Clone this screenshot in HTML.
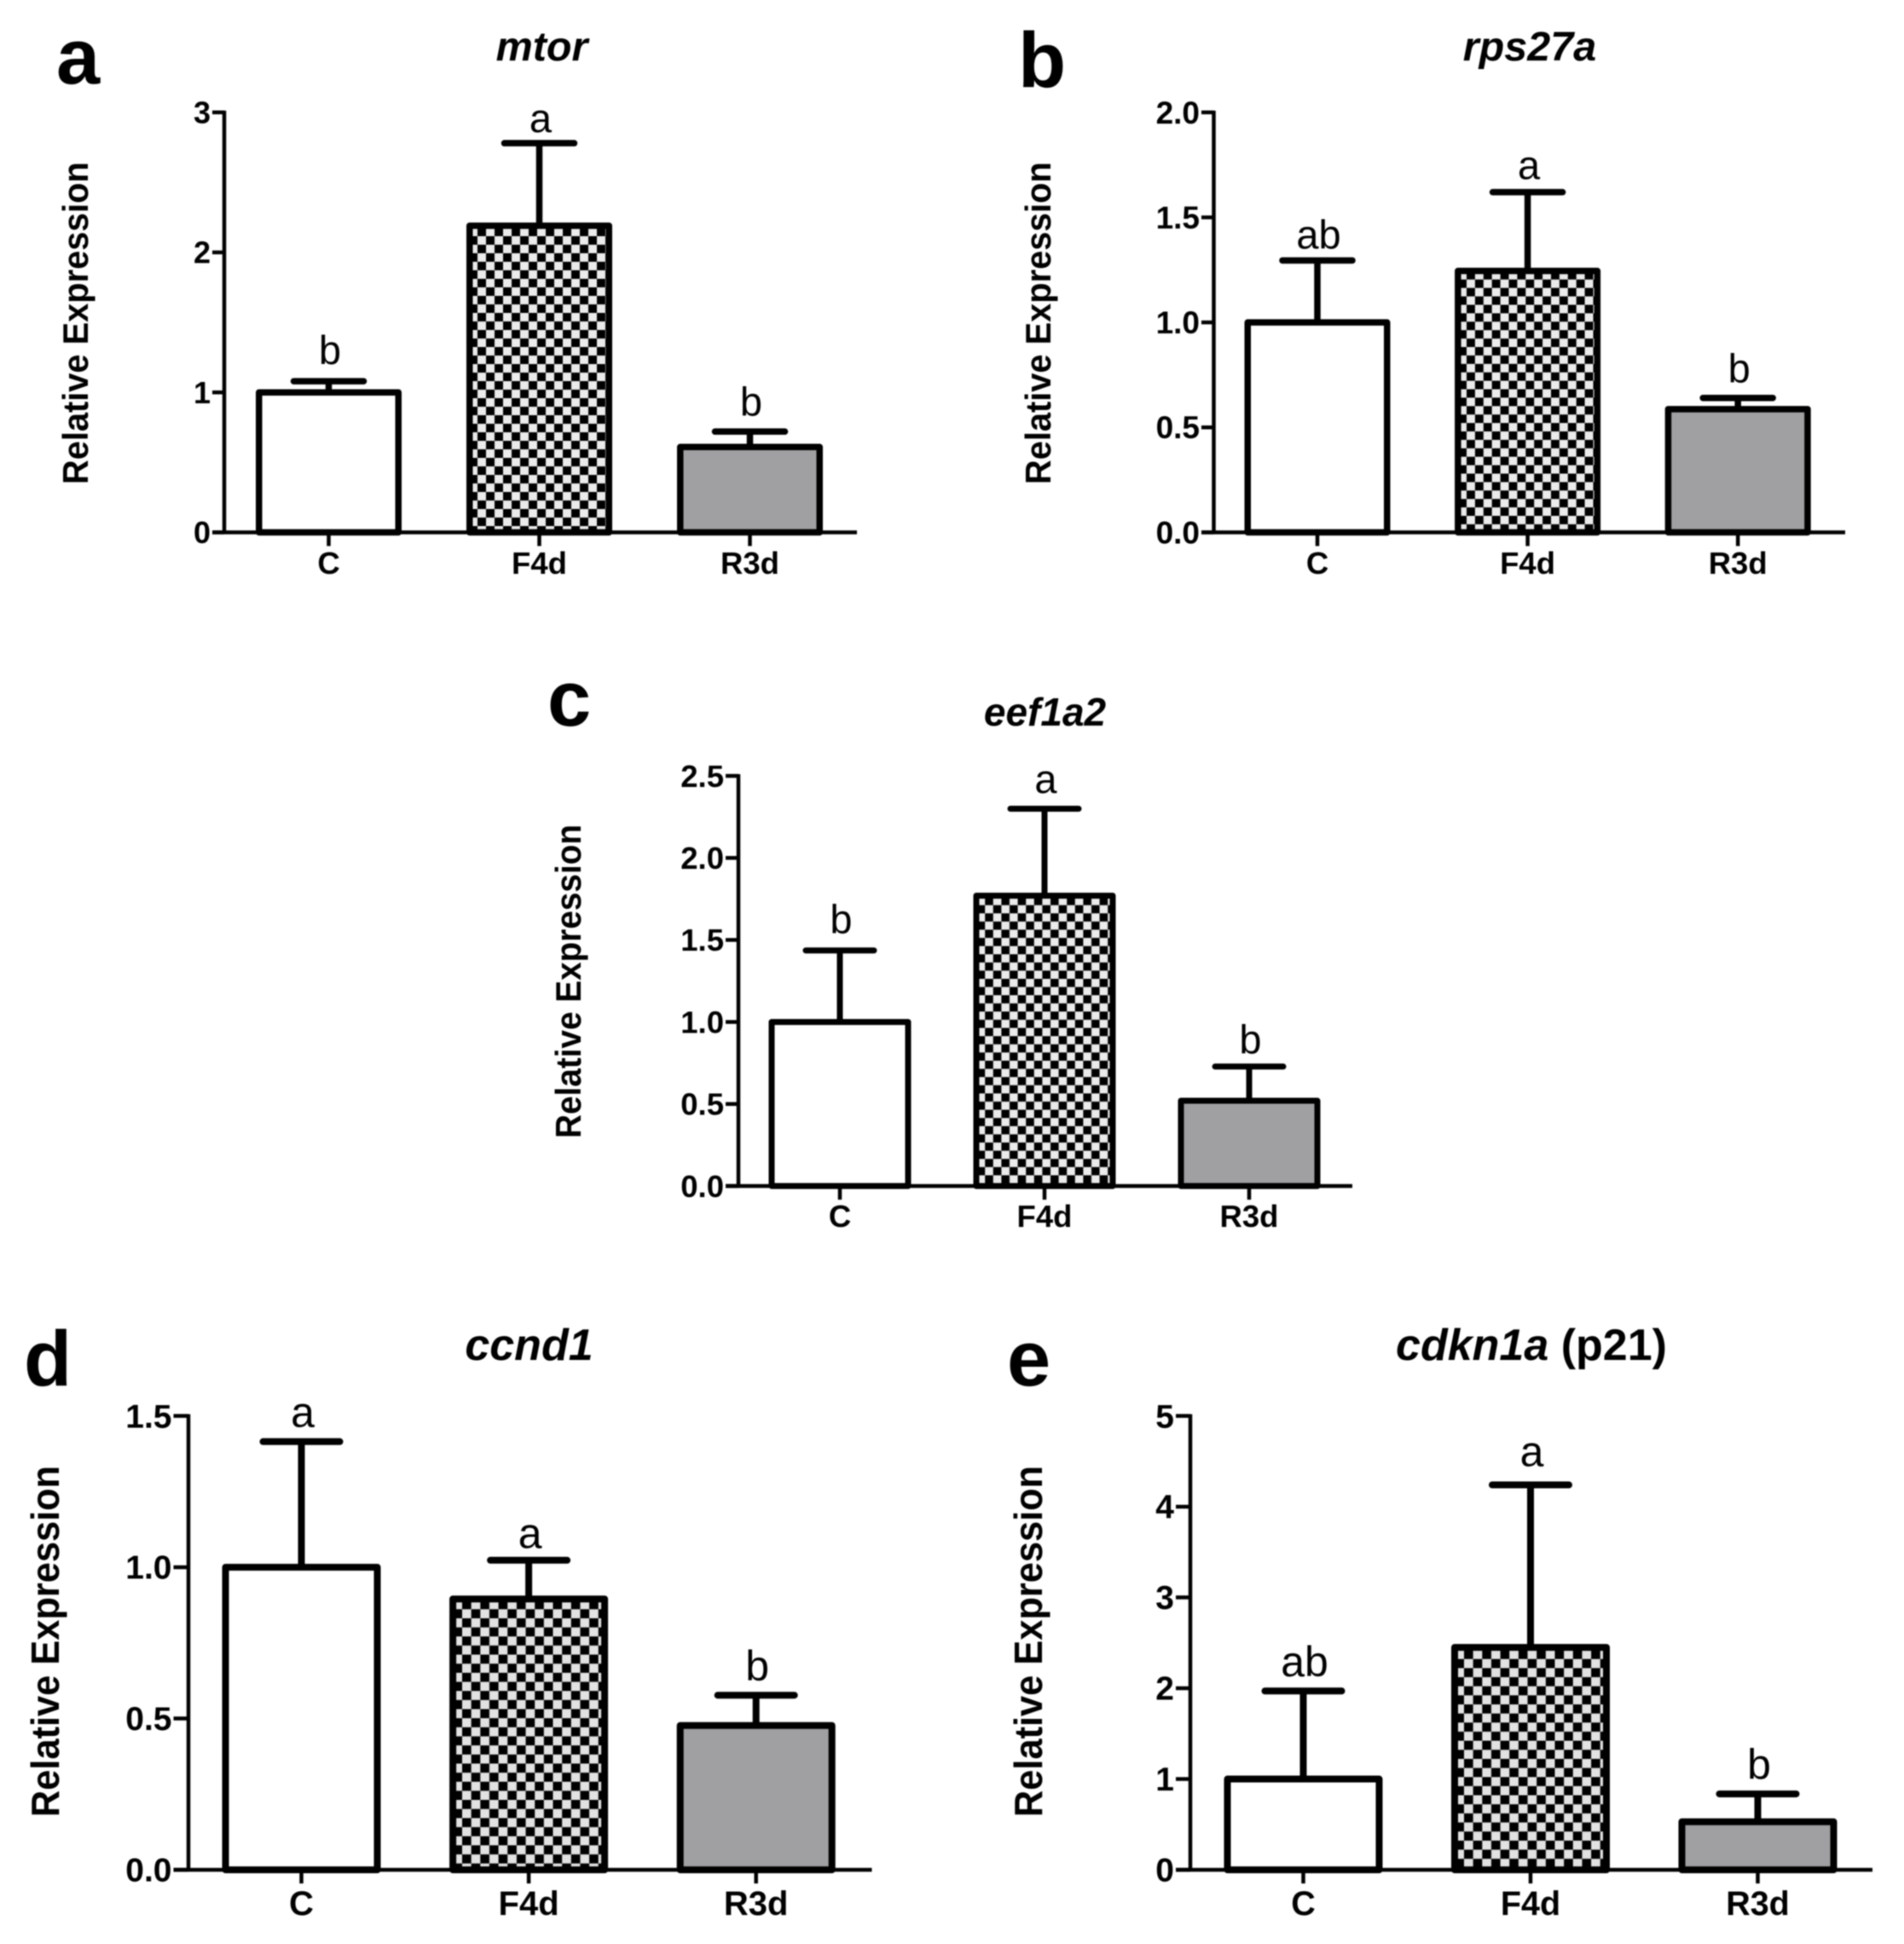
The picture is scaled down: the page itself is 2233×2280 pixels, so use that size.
<!DOCTYPE html>
<html lang="en">
<head>
<meta charset="utf-8">
<title>Relative expression bar charts</title>
<style>
  html, body { margin: 0; padding: 0; background: #ffffff; }
  #figure { display: block; width: 2233px; height: 2280px; filter: blur(0.7px); }
  text { font-family: "Liberation Sans", sans-serif; fill: #000; }
  .panel-label { font-size: 92px; font-weight: 700; }
  .title { font-weight: 700; font-style: italic; text-anchor: middle; }
  .title tspan.plain { font-style: normal; }
  .ytitle { font-weight: 700; text-anchor: middle; }
  .tick { font-weight: 700; }
  .sig { text-anchor: middle; }
</style>
</head>
<body>
<svg id="figure" xmlns="http://www.w3.org/2000/svg" width="2233" height="2280" viewBox="0 0 2233 2280">
  <defs>
    <pattern id="check-a" patternUnits="userSpaceOnUse" x="570" y="277" width="20" height="20"><rect width="20" height="20" fill="#ebebeb"/><rect width="10" height="10" fill="#000"/><rect x="10" y="10" width="10" height="10" fill="#000"/></pattern>
    <pattern id="check-b" patternUnits="userSpaceOnUse" x="1720" y="337.7" width="19.8" height="19.8"><rect width="19.8" height="19.8" fill="#ebebeb"/><rect width="9.9" height="9.9" fill="#000"/><rect x="9.9" y="9.9" width="9.9" height="9.9" fill="#000"/></pattern>
    <pattern id="check-c" patternUnits="userSpaceOnUse" x="1155.2" y="1071.2" width="19.2" height="19.2"><rect width="19.2" height="19.2" fill="#ebebeb"/><rect width="9.6" height="9.6" fill="#000"/><rect x="9.6" y="9.6" width="9.6" height="9.6" fill="#000"/></pattern>
    <pattern id="check-d" patternUnits="userSpaceOnUse" x="542" y="1898" width="21.3" height="21.3"><rect width="21.3" height="21.3" fill="#e2e2e2"/><rect width="10.65" height="10.65" fill="#000"/><rect x="10.65" y="10.65" width="10.65" height="10.65" fill="#000"/></pattern>
    <pattern id="check-e" patternUnits="userSpaceOnUse" x="1717" y="1956.4" width="21.3" height="21.3"><rect width="21.3" height="21.3" fill="#e2e2e2"/><rect width="10.65" height="10.65" fill="#000"/><rect x="10.65" y="10.65" width="10.65" height="10.65" fill="#000"/></pattern>
  </defs>

  <g id="panel-a">
    <text class="panel-label" x="66" y="98">a</text>
    <text class="title" font-size="48.5" x="635.5" y="71">mtor</text>
    <text class="ytitle" font-size="42" transform="translate(103 379) rotate(-90)" textLength="378" lengthAdjust="spacingAndGlyphs">Relative Expression</text>
  </g>
  <g id="panel-b">
    <text class="panel-label" x="1194" y="102">b</text>
    <text class="title" font-size="48.5" x="1794" y="71">rps27a</text>
    <text class="ytitle" font-size="42" transform="translate(1232 379) rotate(-90)" textLength="378" lengthAdjust="spacingAndGlyphs">Relative Expression</text>
  </g>
  <g id="panel-c">
    <text class="panel-label" x="642" y="851">c</text>
    <text class="title" font-size="46" x="1225.5" y="851">eef1a2</text>
    <text class="ytitle" font-size="42" transform="translate(681 1151) rotate(-90)" textLength="368" lengthAdjust="spacingAndGlyphs">Relative Expression</text>
  </g>
  <g id="panel-d">
    <text class="panel-label" x="28" y="1625">d</text>
    <text class="title" font-size="52" x="620.5" y="1595">ccnd1</text>
    <text class="ytitle" font-size="46" transform="translate(69 1925) rotate(-90)" textLength="412" lengthAdjust="spacingAndGlyphs">Relative Expression</text>
  </g>
  <g id="panel-e">
    <text class="panel-label" x="1181" y="1625">e</text>
    <text class="title" font-size="52" x="1796" y="1595">cdkn1a <tspan class="plain">(p21)</tspan></text>
    <text class="ytitle" font-size="46" transform="translate(1222 1925) rotate(-90)" textLength="412" lengthAdjust="spacingAndGlyphs">Relative Expression</text>
  </g>
</svg>

<script>
const categories = ['C', 'F4d', 'R3d'];

const mtorTicks = ['0', '1', '2', '3'];
const mtorValues = [1.0, 2.19, 0.61];
const mtorErrorTops = [1.08, 2.78, 0.72];
const mtorLetters = ['b', 'a', 'b'];

const rpsTicks = ['0.0', '0.5', '1.0', '1.5', '2.0'];
const rpsValues = [1.0, 1.245, 0.587];
const rpsErrorTops = [1.295, 1.62, 0.64];
const rpsLetters = ['ab', 'a', 'b'];

const eefTicks = ['0.0', '0.5', '1.0', '1.5', '2.0', '2.5'];
const eefValues = [1.0, 1.77, 0.52];
const eefErrorTops = [1.436, 2.30, 0.728];
const eefLetters = ['b', 'a', 'b'];

const ccndTicks = ['0.0', '0.5', '1.0', '1.5'];
const ccndValues = [1.0, 0.895, 0.477];
const ccndErrorTops = [1.415, 1.023, 0.577];
const ccndLetters = ['a', 'a', 'b'];

const cdknTicks = ['0', '1', '2', '3', '4', '5'];
const cdknValues = [1.0, 2.45, 0.53];
const cdknErrorTops = [1.97, 4.24, 0.836];
const cdknLetters = ['ab', 'a', 'b'];

const SVG_NS = 'http://www.w3.org/2000/svg';

function shape(parent, tag, props, text) {
  const el = document.createElementNS(SVG_NS, tag);
  Object.keys(props).forEach(function (k) { el.setAttribute(k, props[k]); });
  if (text !== undefined) el.textContent = text;
  parent.appendChild(el);
  return el;
}

function drawPanel(cfg) {
  const root = document.getElementById(cfg.id);
  const domainMax = parseFloat(cfg.ticks[cfg.ticks.length - 1]);
  const yOf = function (v) { return cfg.base - (v / domainMax) * (cfg.base - cfg.top); };
  const xOf = function (i) { return cfg.c0 + i * cfg.step; };
  const fills = ['#ffffff', 'url(#' + cfg.pattern + ')', '#a0a0a3'];

  categories.forEach(function (cat, i) {
    const cx = xOf(i);
    const errY = yOf(cfg.errors[i]);
    const barY = yOf(cfg.values[i]);

    const stem = shape(root, 'line', { x1: cx, x2: cx, y1: errY, y2: barY, stroke: '#000', 'stroke-width': cfg.sw });
    
    

    const cap = shape(root, 'line', { x1: cx - cfg.cap, x2: cx + cfg.cap, y1: errY, y2: errY, stroke: '#000', 'stroke-width': cfg.sw, 'stroke-linecap': 'round' });
    
    

    const bar = shape(root, 'rect', { x: cx - cfg.barW / 2 + cfg.sw / 2, y: barY, width: cfg.barW - cfg.sw, height: cfg.base - barY, fill: fills[i], stroke: '#000', 'stroke-width': cfg.sw, 'stroke-linejoin': 'round' });
    
    

    const sig = shape(root, 'text', { class: 'sig', 'font-size': cfg.sigFont, x: cx + 1.5, y: errY - cfg.sigGaps[i] }, cfg.letters[i]);
    
    

    const xTick = shape(root, 'line', { x1: cx, x2: cx, y1: cfg.base, y2: cfg.base + 16, stroke: '#000', 'stroke-width': 4.5 });
    
    

    const xLabel = shape(root, 'text', { class: 'tick', 'font-size': cfg.xFont, x: cx, y: cfg.base + cfg.xLabelGap, 'text-anchor': 'middle' }, cat);
    
    
  });

  const yAxis = shape(root, 'line', { x1: cfg.axisX, x2: cfg.axisX, y1: cfg.top - 2, y2: cfg.base, stroke: '#000', 'stroke-width': 4.5 });
  
  

  const xAxis = shape(root, 'line', { x1: cfg.xStart, x2: cfg.xEnd, y1: cfg.base, y2: cfg.base, stroke: '#000', 'stroke-width': 4.5 });
  
  

  cfg.ticks.forEach(function (label) {
    const ty = yOf(parseFloat(label));
    const yTick = shape(root, 'line', { x1: cfg.xStart, x2: cfg.axisX, y1: ty, y2: ty, stroke: '#000', 'stroke-width': 4.5 });
    
    

    const yLabel = shape(root, 'text', { class: 'tick', 'font-size': cfg.yFont, x: cfg.xStart - 2, y: ty + cfg.yFont * 0.35, 'text-anchor': 'end' }, label);
    
    
  });
}

drawPanel({ id: 'panel-a', pattern: 'check-a', ticks: mtorTicks, values: mtorValues, errors: mtorErrorTops, letters: mtorLetters,
  axisX: 263, top: 131.8, base: 624.4, c0: 385.5, step: 247, barW: 171, cap: 41, sw: 7.5, xStart: 249, xEnd: 1005, xLabelGap: 48.5,
  sigGaps: [20, 13, 18.5], sigFont: 47, xFont: 36.5, yFont: 36 });
drawPanel({ id: 'panel-b', pattern: 'check-b', ticks: rpsTicks, values: rpsValues, errors: rpsErrorTops, letters: rpsLetters,
  axisX: 1423.5, top: 131.8, base: 624.4, c0: 1545, step: 246.6, barW: 171, cap: 41, sw: 7.5, xStart: 1409, xEnd: 2164, xLabelGap: 48.5,
  sigGaps: [14, 15.5, 18.5], sigFont: 47, xFont: 36.5, yFont: 37 });
drawPanel({ id: 'panel-c', pattern: 'check-c', ticks: eefTicks, values: eefValues, errors: eefErrorTops, letters: eefLetters,
  axisX: 866, top: 910, base: 1391, c0: 985, step: 240, barW: 167, cap: 40, sw: 7, xStart: 851, xEnd: 1586, xLabelGap: 48,
  sigGaps: [20, 18.5, 15.5], sigFont: 47, xFont: 36.5, yFont: 36.5 });
drawPanel({ id: 'panel-d', pattern: 'check-d', ticks: ccndTicks, values: ccndValues, errors: ccndErrorTops, letters: ccndLetters,
  axisX: 221, top: 1660.6, base: 2193, c0: 353.5, step: 266.6, barW: 186, cap: 45, sw: 8, xStart: 203.5, xEnd: 1022.5, xLabelGap: 53,
  sigGaps: [17.3, 14.3, 17.3], sigFont: 50, xFont: 40, yFont: 39 });
drawPanel({ id: 'panel-e', pattern: 'check-e', ticks: cdknTicks, values: cdknValues, errors: cdknErrorTops, letters: cdknLetters,
  axisX: 1396, top: 1660.6, base: 2193, c0: 1528.5, step: 266.5, barW: 186, cap: 45, sw: 8, xStart: 1379, xEnd: 2196, xLabelGap: 53,
  sigGaps: [17.3, 21.8, 17.3], sigFont: 50, xFont: 39.5, yFont: 39 });
</script>
</body>
</html>
